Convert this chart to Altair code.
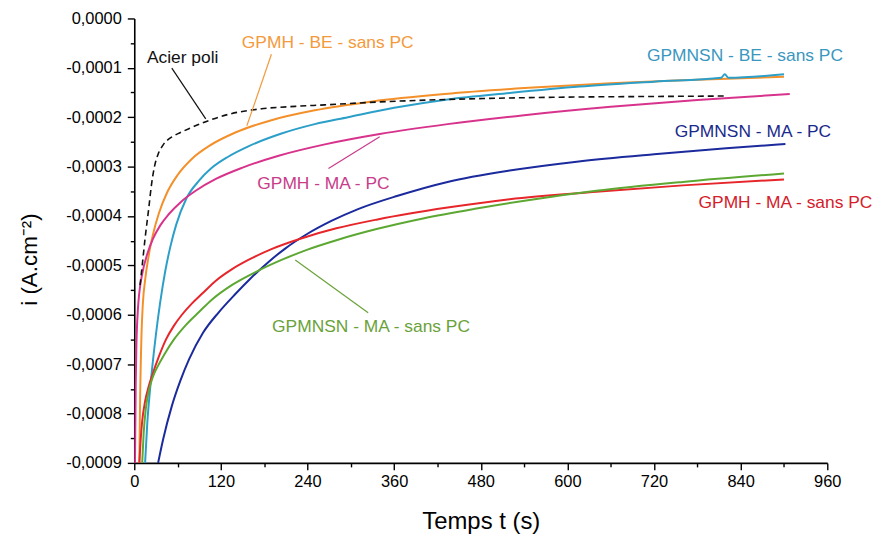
import altair as alt
import pandas as pd

# ---------------- data (in A/cm2) ----------------
t_acier = [8, 11, 15, 20, 24, 28, 33, 40, 52, 64, 76, 99, 131, 176, 223, 264, 340, 434, 520, 617, 720, 822]
i_acier = [-0.000540, -0.000500, -0.000445, -0.000385, -0.000335, -0.000300, -0.000275, -0.000256,
           -0.000240, -0.000231, -0.000223, -0.000209, -0.000194, -0.000183, -0.000178, -0.000175,
           -0.000169, -0.000164, -0.000161, -0.000159, -0.000158, -0.000157]

t_gpmh_be = [7, 8, 10, 12, 15, 20, 26, 34, 45, 60, 80, 105, 140, 190, 250, 330, 430, 540, 660, 780, 900]
i_gpmh_be = [-0.000900, -0.000780, -0.000640, -0.000575, -0.000530, -0.000480, -0.000437, -0.000395,
             -0.000354, -0.000317, -0.000284, -0.000257, -0.000231, -0.000206, -0.000186, -0.000168,
             -0.000153, -0.000141, -0.000131, -0.000124, -0.000118]

t_gpmnsn_be = [15, 18, 21, 25, 30, 36, 43, 50, 58, 72, 90, 107, 130, 158, 204, 250, 296, 360, 434, 520,
               617, 720, 813, 818, 823, 900]
i_gpmnsn_be = [-0.000900, -0.000820, -0.000765, -0.000705, -0.000640, -0.000574, -0.000511, -0.000462,
               -0.000418, -0.000365, -0.000328, -0.000303, -0.000280, -0.000259, -0.000233, -0.000214,
               -0.000200, -0.000181, -0.000164, -0.000151, -0.000138, -0.000128, -0.000120, -0.000113,
               -0.000120, -0.000113]

t_gpmh_ma_pc = [1, 2, 3, 5, 7, 11, 18, 26, 36, 48, 65, 85, 113, 150, 200, 264, 340, 434, 540, 660, 780, 908]
i_gpmh_ma_pc = [-0.000900, -0.000740, -0.000660, -0.000590, -0.000555, -0.000517, -0.000477, -0.000446,
                -0.000419, -0.000396, -0.000371, -0.000349, -0.000325, -0.000302, -0.000278, -0.000255,
                -0.000234, -0.000214, -0.000196, -0.000179, -0.000165, -0.000153]

t_gpmnsn_ma_pc = [33, 40, 52, 64, 76, 95, 117, 140, 160, 186, 209, 240, 273, 310, 365, 434, 520, 613,
                  720, 820, 902]
i_gpmnsn_ma_pc = [-0.000900, -0.000852, -0.000785, -0.000733, -0.000690, -0.000637, -0.000595, -0.000558,
                  -0.000528, -0.000493, -0.000466, -0.000436, -0.000410, -0.000386, -0.000359, -0.000331,
                  -0.000308, -0.000290, -0.000275, -0.000263, -0.000254]

t_gpmh_ma = [7, 9, 11, 15, 20, 25, 34, 44, 55, 66, 80, 95, 113, 135, 158, 190, 230, 280, 337, 434, 520,
             640, 760, 900]
i_gpmh_ma = [-0.000900, -0.000850, -0.000815, -0.000775, -0.000745, -0.000722, -0.000685, -0.000650,
             -0.000622, -0.000600, -0.000577, -0.000556, -0.000531, -0.000508, -0.000489, -0.000467,
             -0.000446, -0.000425, -0.000407, -0.000383, -0.000366, -0.000351, -0.000338, -0.000326]

t_gpmnsn_ma = [11, 13, 16, 20, 26, 33, 41, 55, 72, 90, 107, 135, 170, 204, 240, 280, 337, 400, 470, 550,
               640, 760, 900]
i_gpmnsn_ma = [-0.000900, -0.000840, -0.000790, -0.000755, -0.000725, -0.000703, -0.000682, -0.000650,
               -0.000620, -0.000594, -0.000570, -0.000540, -0.000512, -0.000489, -0.000468, -0.000449,
               -0.000426, -0.000405, -0.000386, -0.000367, -0.000349, -0.000331, -0.000314]

series_names = ["GPMH - BE - sans PC", "GPMNSN - BE - sans PC", "GPMH - MA - PC",
                "GPMNSN - MA - PC", "GPMH - MA - sans PC", "GPMNSN - MA - sans PC"]
series_t = [t_gpmh_be, t_gpmnsn_be, t_gpmh_ma_pc, t_gpmnsn_ma_pc, t_gpmh_ma, t_gpmnsn_ma]
series_i = [i_gpmh_be, i_gpmnsn_be, i_gpmh_ma_pc, i_gpmnsn_ma_pc, i_gpmh_ma, i_gpmnsn_ma]
series_colors = ["#f4902a", "#2c9fc9", "#d8338c", "#1b2a9c", "#e6262b", "#5ca832"]

# annotation labels (data coordinates) and leader lines
label_texts = ["Acier poli", "GPMH - BE - sans PC", "GPMNSN - BE - sans PC", "GPMH - MA - PC",
               "GPMNSN - MA - PC", "GPMH - MA - sans PC", "GPMNSN - MA - sans PC"]
label_t = [67, 268, 846, 262, 857, 902, 328]
label_i = [-0.0000805, -0.0000503, -0.0000765, -0.000336, -0.0002295, -0.0003745, -0.000624]
label_colors = ["#111111", "#f39a3c", "#3a97c0", "#c83c8a", "#1a2a8c", "#d4202a", "#6aa23a"]

lead_t1 = [52, 190, 269, 324]
lead_i1 = [-0.0001007, -0.0000725, -0.000304, -0.000596]
lead_t2 = [99, 156, 340, 223]
lead_i2 = [-0.0002034, -0.0002174, -0.0002396, -0.000489]
lead_colors = ["#111111", "#f39a3c", "#c83c8a", "#6aa23a"]

x_ticks = list(range(0, 961, 60))
y_ticks = [round(-k * 0.00005, 5) for k in range(19)]

# ---------------- build tables ----------------
rows = []
for name, ts, is_ in zip(series_names, series_t, series_i):
    for t, i in zip(ts, is_):
        rows.append({"serie": name, "t": t, "i": i})
df_lines = pd.DataFrame(rows)
df_acier = pd.DataFrame({"t": t_acier, "i": i_acier})
df_labels = pd.DataFrame({"txt": label_texts, "t": label_t, "i": label_i, "c": label_colors})
df_leads = pd.DataFrame({"t": lead_t1, "i": lead_i1, "t2": lead_t2, "i2": lead_i2, "c": lead_colors})

x_scale = alt.Scale(domain=[0, 960], nice=False, zero=False)
y_scale = alt.Scale(domain=[-0.0009, 0], nice=False, zero=False)

x_axis = alt.Axis(
    values=x_ticks,
    labelExpr="datum.value % 120 === 0 ? datum.value : ''",
    tickSize={"condition": {"test": "datum.value % 120 === 0", "value": 7}, "value": 4},
    title="Temps t (s)",
    titlePadding=19,
    titleFontSize=24,
    labelPadding=4,
    labelFlush=False,
    labelOverlap=False,
)
y_axis = alt.Axis(
    values=y_ticks,
    labelExpr="abs(round(datum.value*20000)) % 2 === 0 ? (datum.value < 0 ? '-' : '') + replace(format(abs(datum.value), '.4f'), '.', ',') : ''",
    tickSize={"condition": {"test": "abs(round(datum.value*20000)) % 2 === 0", "value": 7}, "value": 4},
    title="i (A.cm⁻²)",
    titlePadding=24,
    titleY=242,
    titleFontSize=22.5,
    labelPadding=6,
    labelFlush=False,
    labelOverlap=False,
)

X = alt.X("t:Q", scale=x_scale, axis=x_axis, title="Temps t (s)")
Y = alt.Y("i:Q", scale=y_scale, axis=y_axis, title="i (A.cm⁻²)")

lines = alt.Chart(df_lines).mark_line(strokeWidth=2, interpolate="monotone", clip=True).encode(
    x=X,
    y=Y,
    color=alt.Color("serie:N", scale=alt.Scale(domain=series_names, range=series_colors), legend=None),
)

acier = alt.Chart(df_acier).mark_line(strokeWidth=1.6, strokeDash=[6, 4], color="#111111",
                                      interpolate="monotone", clip=True).encode(x=X, y=Y)

leads = alt.Chart(df_leads).mark_rule(strokeWidth=1.2).encode(
    x=X,
    y=Y,
    x2="t2:Q",
    y2="i2:Q",
    color=alt.Color("c:N", scale=None, legend=None),
)

labels = alt.Chart(df_labels).mark_text(fontSize=17.5, align="center", baseline="middle",
                                         font="Liberation Sans").encode(
    x=X,
    y=Y,
    text="txt:N",
    color=alt.Color("c:N", scale=None, legend=None),
)

chart = alt.layer(lines, acier, leads, labels).properties(
    width=697,
    height=447,
    padding={"left": 127, "top": 9, "right": 50, "bottom": 71},
    autosize=alt.AutoSizeParams(type="none"),
).configure_view(stroke=None).configure_axis(
    domainColor="#000000",
    domainWidth=1.6,
    tickColor="#000000",
    tickWidth=1.4,
    grid=False,
    labelColor="#000000",
    labelFont="Liberation Sans",
    labelFontSize=16.5,
    titleFont="Liberation Sans",
    titleFontWeight="normal",
    titleColor="#000000",
)

chart.save("out.html", embed_options={"renderer": "svg", "actions": False})
